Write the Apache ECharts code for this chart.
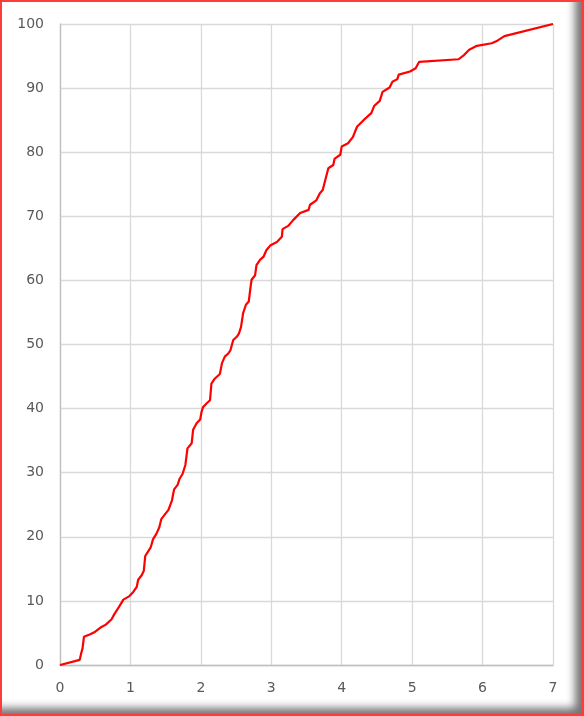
<!DOCTYPE html>
<html>
<head>
<meta charset="utf-8">
<script src="https://cdn.jsdelivr.net/npm/echarts@6/dist/echarts.min.js"></script>
<style>
  html, body { margin: 0; padding: 0; background: #fff; }
  #frame {
    position: absolute; left: 0; top: 0; width: 584px; height: 716px;
    box-sizing: border-box; border: 2px solid #ff3b3b;
    box-shadow: inset -10px -9px 9px -3px rgba(0,0,0,0.55);
    background: #fff;
  }
  #chart { position: absolute; left: 0; top: 0; width: 584px; height: 716px; }
</style>
</head>
<body>
<div id="frame"></div>
<div id="chart"></div>
<script>
// Data
const xValues = [
  0, 0.28, 0.30, 0.32, 0.34, 0.43, 0.50, 0.57,
  0.65, 0.73, 0.77, 0.84, 0.90, 0.98, 1.04, 1.09,
  1.11, 1.16, 1.19, 1.21, 1.25, 1.29, 1.32, 1.37,
  1.41, 1.44, 1.54, 1.59, 1.62, 1.67, 1.70, 1.74,
  1.78, 1.81, 1.87, 1.89, 1.94, 1.99, 2.01, 2.03,
  2.08, 2.13, 2.15, 2.20, 2.27, 2.30, 2.34, 2.39,
  2.42, 2.46, 2.51, 2.54, 2.57, 2.60, 2.64, 2.68,
  2.70, 2.72, 2.77, 2.79, 2.84, 2.89, 2.93, 2.99,
  3.08, 3.15, 3.16, 3.24, 3.31, 3.41, 3.53, 3.55,
  3.64, 3.69, 3.73, 3.81, 3.88, 3.90, 3.98, 4.00,
  4.09, 4.16, 4.20, 4.22, 4.31, 4.42, 4.46, 4.54,
  4.58, 4.68, 4.72, 4.79, 4.81, 4.97, 5.05, 5.10,
  5.66, 5.74, 5.81, 5.92, 6.13, 6.21, 6.31, 7.00
];
const yValues = [
  0, 0.8, 1.8, 2.6, 4.4, 4.8, 5.2, 5.8,
  6.3, 7.1, 7.9, 9.1, 10.2, 10.7, 11.4, 12.2,
  13.3, 14.0, 14.7, 17.0, 17.7, 18.4, 19.6, 20.5,
  21.5, 22.8, 24.2, 25.7, 27.4, 28.1, 29.1, 29.8,
  31.2, 33.8, 34.6, 36.7, 37.7, 38.3, 39.5, 40.2,
  40.8, 41.3, 43.9, 44.7, 45.4, 47.1, 48.1, 48.6,
  49.1, 50.7, 51.2, 51.7, 52.7, 54.9, 56.2, 56.7,
  58.5, 60.1, 60.8, 62.4, 63.2, 63.7, 64.7, 65.5,
  66.0, 66.8, 68.0, 68.5, 69.4, 70.5, 71.0, 71.8,
  72.5, 73.6, 74.1, 77.5, 78.0, 79.0, 79.6, 80.9,
  81.4, 82.4, 83.5, 84.0, 85.0, 86.1, 87.2, 88.0,
  89.4, 90.1, 91.0, 91.4, 92.1, 92.6, 93.1, 94.1,
  94.5, 95.2, 96.0, 96.6, 97.0, 97.4, 98.1, 100
];
const xTicks = [0, 1, 2, 3, 4, 5, 6, 7];
const yTicks = [0, 10, 20, 30, 40, 50, 60, 70, 80, 90, 100];

const seriesData = xValues.map((x, i) => [x, yValues[i]]);
const labelStyle = { color: '#595959', fontSize: 14, fontFamily: 'DejaVu Sans' };
const gridLine = { show: true, lineStyle: { color: '#d9d9d9', width: 1.3 } };

const chart = echarts.init(document.getElementById('chart'), null, { renderer: 'canvas' });
chart.setOption({
  animation: false,
  backgroundColor: 'transparent',
  grid: { left: 60, right: 31, top: 24, bottom: 51, containLabel: false },
  xAxis: {
    type: 'value', min: xTicks[0], max: xTicks[xTicks.length - 1], interval: 1,
    axisLine: { show: true, lineStyle: { color: '#bfbfbf', width: 1.3 } },
    axisTick: { show: false },
    splitLine: gridLine,
    axisLabel: Object.assign({ margin: 16 }, labelStyle)
  },
  yAxis: {
    type: 'value', min: yTicks[0], max: yTicks[yTicks.length - 1], interval: 10,
    axisLine: { show: true, lineStyle: { color: '#bfbfbf', width: 1.3 } },
    axisTick: { show: false },
    splitLine: gridLine,
    axisLabel: Object.assign({ margin: 16 }, labelStyle)
  },
  series: [{
    type: 'line',
    data: seriesData,
    showSymbol: false,
    symbol: 'none',
    lineStyle: { color: '#ff0000', width: 2.2 },
    smooth: false
  }]
});
</script>
</body>
</html>
